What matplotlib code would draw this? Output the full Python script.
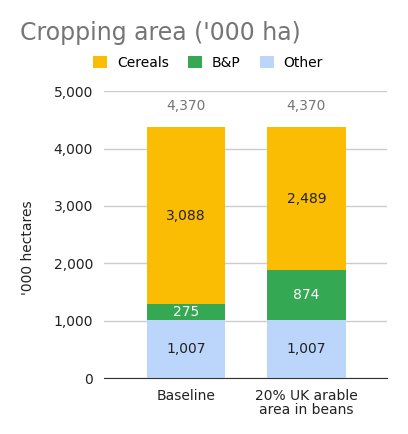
import matplotlib.pyplot as plt
import numpy as np

scenarios = ["Baseline", "20% UK arable\narea in beans"]
other = [1007, 1007]
bp = [275, 874]
cereals = [3088, 2489]
totals = [4370, 4370]
y_ticks = [0, 1000, 2000, 3000, 4000, 5000]

C_CEREALS = "#fbbc04"
C_BP = "#34a853"
C_OTHER = "#bbd5fb"
GREY = "#757575"

plt.rcParams["font.family"] = "DejaVu Sans"

fig = plt.figure(figsize=(4.08, 4.34), dpi=100)
ax = fig.add_axes([0.255, 0.129, 0.694, 0.661])

x = np.arange(len(scenarios))
w = 0.65
other = np.array(other)
bp = np.array(bp)
cereals = np.array(cereals)

b1 = ax.bar(x, other, w, color=C_OTHER, label="Other", zorder=3)
b2 = ax.bar(x, bp, w, bottom=other, color=C_BP, label="B&P", zorder=3)
b3 = ax.bar(x, cereals, w, bottom=other + bp, color=C_CEREALS, label="Cereals", zorder=3)

for i in range(len(x)):
    ax.text(x[i], other[i] / 2, f"{other[i]:,}", ha="center", va="center", fontsize=10, color="#222222", zorder=4)
    ax.text(x[i], other[i] + bp[i] / 2, f"{bp[i]:,}", ha="center", va="center", fontsize=10, color="white", zorder=4)
    ax.text(x[i], other[i] + bp[i] + cereals[i] / 2, f"{cereals[i]:,}", ha="center", va="center", fontsize=10, color="#222222", zorder=4)
    ax.text(x[i], totals[i] + 250, f"{totals[i]:,}", ha="center", va="bottom", fontsize=10, color=GREY, zorder=4)

ax.set_xlim(-0.68, 1.67)
ax.set_ylim(0, 5000)
ax.set_yticks(y_ticks)
ax.set_yticklabels([f"{v:,}" for v in y_ticks], fontsize=10, color="#222222")
ax.set_xticks(x)
ax.set_xticklabels(scenarios, fontsize=10, color="#222222", linespacing=0.95)
ax.tick_params(axis="both", length=0, pad=8)
ax.grid(axis="y", color="#cccccc", linewidth=1, zorder=0)
for s in ["top", "right", "left"]:
    ax.spines[s].set_visible(False)
ax.spines["bottom"].set_color("#333333")
ax.spines["bottom"].set_zorder(5)

ax.set_ylabel("'000 hectares", fontsize=10, color="#222222")
ax.yaxis.set_label_coords(-0.245, 0.453)

fig.text(0.049, 0.908, "Cropping area ('000 ha)", fontsize=17, color=GREY, ha="left", va="baseline")

handles = [b3, b2, b1]
fig.legend(handles, ["Cereals", "B&P", "Other"], loc="center", bbox_to_anchor=(0.51, 0.855),
           ncol=3, frameon=False, fontsize=10, handlelength=1.0, handleheight=1.0,
           handletextpad=0.7, columnspacing=1.4)

fig.savefig("out.png", dpi=100)
